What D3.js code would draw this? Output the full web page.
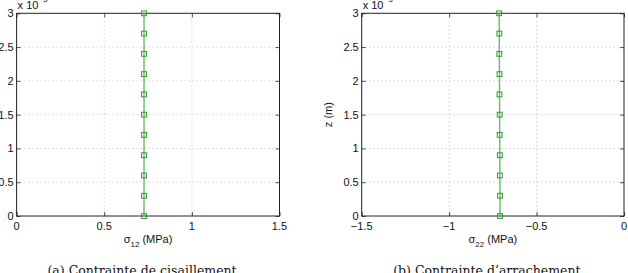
<!DOCTYPE html>
<html><head><meta charset="utf-8">
<script src="https://cdn.jsdelivr.net/npm/d3@7"></script>
<style>body{margin:0;background:#fff}svg{display:block}</style>
</head><body>
<script>
// Data (z in units of 1e-3 m)
const zValues = [0, 0.3, 0.6, 0.9, 1.2, 1.5, 1.8, 2.1, 2.4, 2.7, 3.0];
const sigma12 = [0.727, 0.727, 0.727, 0.727, 0.727, 0.727, 0.727, 0.727, 0.727, 0.727, 0.727];
const sigma22 = [-0.709, -0.709, -0.710, -0.710, -0.711, -0.711, -0.712, -0.712, -0.713, -0.713, -0.714];
const xTicksA = [0, 0.5, 1, 1.5];
const xTicksB = [-1.5, -1, -0.5, 0];
const yTicks = [0, 0.5, 1, 1.5, 2, 2.5, 3];
const captions = ["(a) Contrainte de cisaillement", "(b) Contrainte d\u2019arrachement"];

const W = 628, H = 273;
const svg = d3.select("body").append("svg").attr("width", W).attr("height", H);

const panels = [
  {x0: 16.6, x1: 279.5, domain: [0, 1.5], ticks: xTicksA, vals: sigma12, sub: "12", ylabel: false, cap: captions[0]},
  {x0: 361.7, x1: 624, domain: [-1.5, 0], ticks: xTicksB, vals: sigma22, sub: "22", ylabel: true, cap: captions[1]}
];
const yTop = 13.3, yBot = 216;
const fmt = v => (v < 0 ? "\u2212" + Math.abs(v) : String(v));
const FONT = "Liberation Sans, Arial, sans-serif";

panels.forEach(p => {
  const x = d3.scaleLinear().domain(p.domain).range([p.x0, p.x1]);
  const y = d3.scaleLinear().domain([0, 3]).range([yBot, yTop]);
  const g = svg.append("g");

  // grid
  g.selectAll(".gx").data(p.ticks.slice(1, -1)).join("line")
    .attr("x1", d => x(d)).attr("x2", d => x(d)).attr("y1", yTop).attr("y2", yBot)
    .attr("stroke", "#b0b0b0").attr("stroke-width", 0.8).attr("stroke-dasharray", "1,3");
  g.selectAll(".gy").data(yTicks.slice(1, -1)).join("line")
    .attr("x1", p.x0).attr("x2", p.x1).attr("y1", d => y(d)).attr("y2", d => y(d))
    .attr("stroke", "#b0b0b0").attr("stroke-width", 0.8).attr("stroke-dasharray", "1,3");

  // axes (inward ticks on all sides)
  const tl = 4;
  g.append("g").attr("transform", `translate(0,${yBot})`)
    .call(d3.axisTop(x).tickValues(p.ticks).tickSize(tl).tickFormat(""));
  g.append("g").attr("transform", `translate(0,${yTop})`)
    .call(d3.axisBottom(x).tickValues(p.ticks).tickSize(tl).tickFormat(""));
  g.append("g").attr("transform", `translate(${p.x0},0)`)
    .call(d3.axisRight(y).tickValues(yTicks).tickSize(tl).tickFormat(""));
  g.append("g").attr("transform", `translate(${p.x1},0)`)
    .call(d3.axisLeft(y).tickValues(yTicks).tickSize(tl).tickFormat(""));
  g.selectAll(".domain").remove();
  g.selectAll(".tick line").attr("stroke", "#222").attr("stroke-width", 0.8);

  g.append("rect").attr("x", p.x0).attr("y", yTop).attr("width", p.x1 - p.x0).attr("height", yBot - yTop)
    .attr("fill", "none").attr("stroke", "#222").attr("stroke-width", 1);

  // tick labels
  g.selectAll(".xl").data(p.ticks).join("text")
    .attr("x", d => x(d)).attr("y", 229.5).attr("text-anchor", "middle")
    .attr("font-family", FONT).attr("font-size", "11px").attr("fill", "#111")
    .text(fmt);
  g.selectAll(".yl").data(yTicks).join("text")
    .attr("x", p.x0 - 3).attr("y", d => y(d) + 4).attr("text-anchor", "end")
    .attr("font-family", FONT).attr("font-size", "11px").attr("fill", "#111")
    .text(d => String(d));

  // exponent
  const ex = g.append("text").attr("x", p.x0 + 1).attr("y", 9)
    .attr("font-family", FONT).attr("font-size", "11px").attr("fill", "#111");
  ex.append("tspan").text("x 10");
  ex.append("tspan").attr("dy", -7).attr("font-size", "8px").text("\u22123");

  // x label
  const xl = g.append("text").attr("x", (p.x0 + p.x1) / 2).attr("y", 243).attr("text-anchor", "middle")
    .attr("font-family", FONT).attr("font-size", "11px").attr("fill", "#111");
  xl.append("tspan").text("\u03c3");
  xl.append("tspan").attr("dy", 4).attr("font-size", "8px").text(p.sub);
  xl.append("tspan").attr("dy", -4).text(" (MPa)");

  if (p.ylabel) {
    g.append("text").attr("transform", `translate(${p.x0 - 30},${(yTop + yBot) / 2}) rotate(-90)`)
      .attr("text-anchor", "middle")
      .attr("font-family", FONT).attr("font-size", "11px").attr("fill", "#111")
      .text("z (m)");
  }

  // data line
  const pts = zValues.map((z, i) => [p.vals[i], z]);
  g.append("path").datum(pts)
    .attr("d", d3.line().x(d => x(d[0])).y(d => y(d[1])))
    .attr("fill", "none").attr("stroke", "#4cb04c").attr("stroke-opacity", 0.85).attr("stroke-width", 1.4);
  g.selectAll(".mk").data(pts).join("rect")
    .attr("x", d => x(d[0]) - 2.4).attr("y", d => y(d[1]) - 2.4)
    .attr("width", 4.8).attr("height", 4.8)
    .attr("fill", "none").attr("stroke", "#2e9a2e").attr("stroke-width", 1);

  // caption
  g.append("text").attr("x", (p.x0 + p.x1) / 2 - 6).attr("y", 275).attr("text-anchor", "middle")
    .attr("font-family", "DejaVu Serif, Liberation Serif, serif").attr("font-size", "12.5px").attr("fill", "#111")
    .text(p.cap);
});
</script>
</body></html>
